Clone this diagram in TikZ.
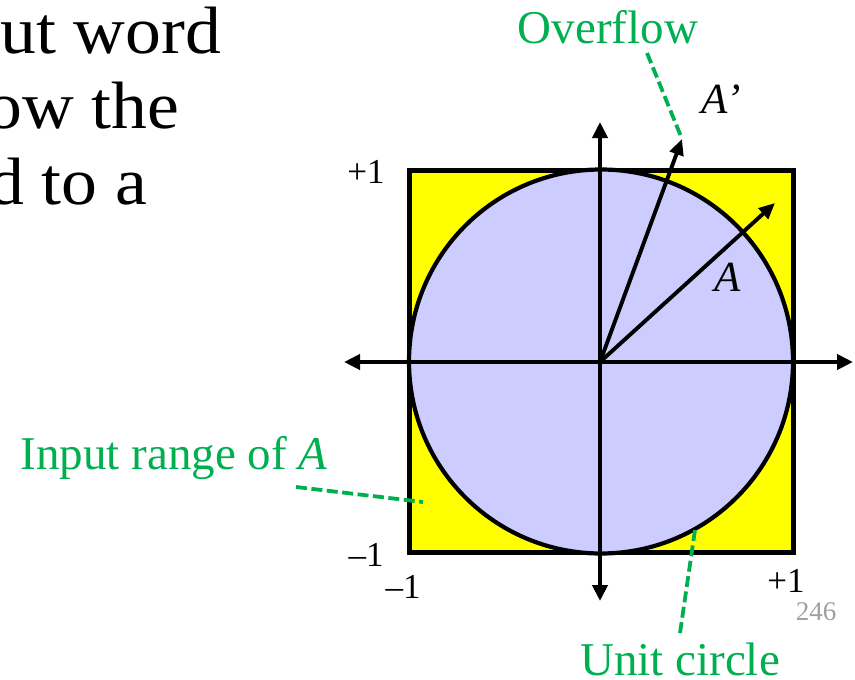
\documentclass[tikz,border=0pt]{standalone}
\usepackage{fontspec}
\setmainfont{Liberation Serif}
\usetikzlibrary{arrows.meta}
\definecolor{gr}{RGB}{0,176,80}
\definecolor{circfill}{RGB}{204,204,255}
\definecolor{yel}{RGB}{255,255,0}
\definecolor{pagenum}{RGB}{160,160,160}
\tikzset{
  axis/.style={line width=4.4pt,-{Triangle[length=16pt,width=15pt]}},
  vec/.style={line width=3.9pt,-{Triangle[length=16pt,width=14pt]}},
  gdash/.style={gr,line width=3.8pt,dash pattern=on 11pt off 4.5pt},
  glabel/.style={gr,font=\fontsize{47}{50}\selectfont,inner sep=0pt},
  tick/.style={font=\fontsize{35}{38}\selectfont,inner sep=0pt},
  vlabel/.style={font=\fontsize{43}{46}\selectfont\itshape,inner sep=0pt},
  bodytext/.style={font=\fontsize{67}{70}\selectfont,inner sep=0pt,anchor=base west}
}
\begin{document}
\begin{tikzpicture}[x=1pt,y=-1pt]
\useasboundingbox (0,0) rectangle (855,680);
% cropped body text
\node[bodytext] (t1) at (0,53) {\scalebox{1.07}[1]{ut word}};
\node[bodytext] (t2) at (-14,128) {\scalebox{1.07}[1]{ow the}};
\node[bodytext] (t3) at (-12,204) {\scalebox{1.07}[1]{d to a}};
% square and circle
\draw[line width=5pt,fill=yel] (409.5,170.5) rectangle (793,552);
\draw[line width=4.2pt,fill=circfill] (601,361.5) circle (192);
% axes
\coordinate (O) at (600,362);
\coordinate (xl) at (344,362);
\coordinate (xr) at (853,362);
\coordinate (yt) at (600,122);
\coordinate (yb) at (600,601);
\draw[axis] (O) -- (xl);
\draw[axis] (O) -- (xr);
\draw[axis] (O) -- (yt);
\draw[axis] (O) -- (yb);
% vectors
\coordinate (Atip) at (775,203);
\coordinate (Aptip) at (682,139);
\draw[vec] (O) -- (Atip);
\draw[vec] (O) -- (Aptip);
\node[vlabel] (A) at (728,277) {A};
\node[vlabel] (Ap) at (721,99) {A’};
% ticks
\node[tick] (tp1) at (366,172) {+1};
\node[tick] (tm1a) at (366,555) {–1};
\node[tick] (tm1b) at (403,587) {–1};
\node[tick] (tp1b) at (786,581) {+1};
\node[pagenum,font=\fontsize{27}{30}\selectfont,inner sep=0pt] (pg) at (816,612) {246};
% green labels
\node[glabel,anchor=base] (ovf) at (608,43) {Overflow};
\coordinate (ovfs) at (647,53);
\draw[gdash] (ovfs) -- (Aptip);
\node[glabel,anchor=base] (uc) at (680,675) {Unit circle};
\coordinate (ucs) at (680,633);
\coordinate (uce) at (695,530);
\draw[gdash] (ucs) -- (uce);
\node[glabel,anchor=base] (ir) at (174,469) {Input range of \textit{A}};
\coordinate (irs) at (296,487);
\coordinate (ire) at (423,502);
\draw[gdash] (irs) -- (ire);
\end{tikzpicture}
\end{document}
